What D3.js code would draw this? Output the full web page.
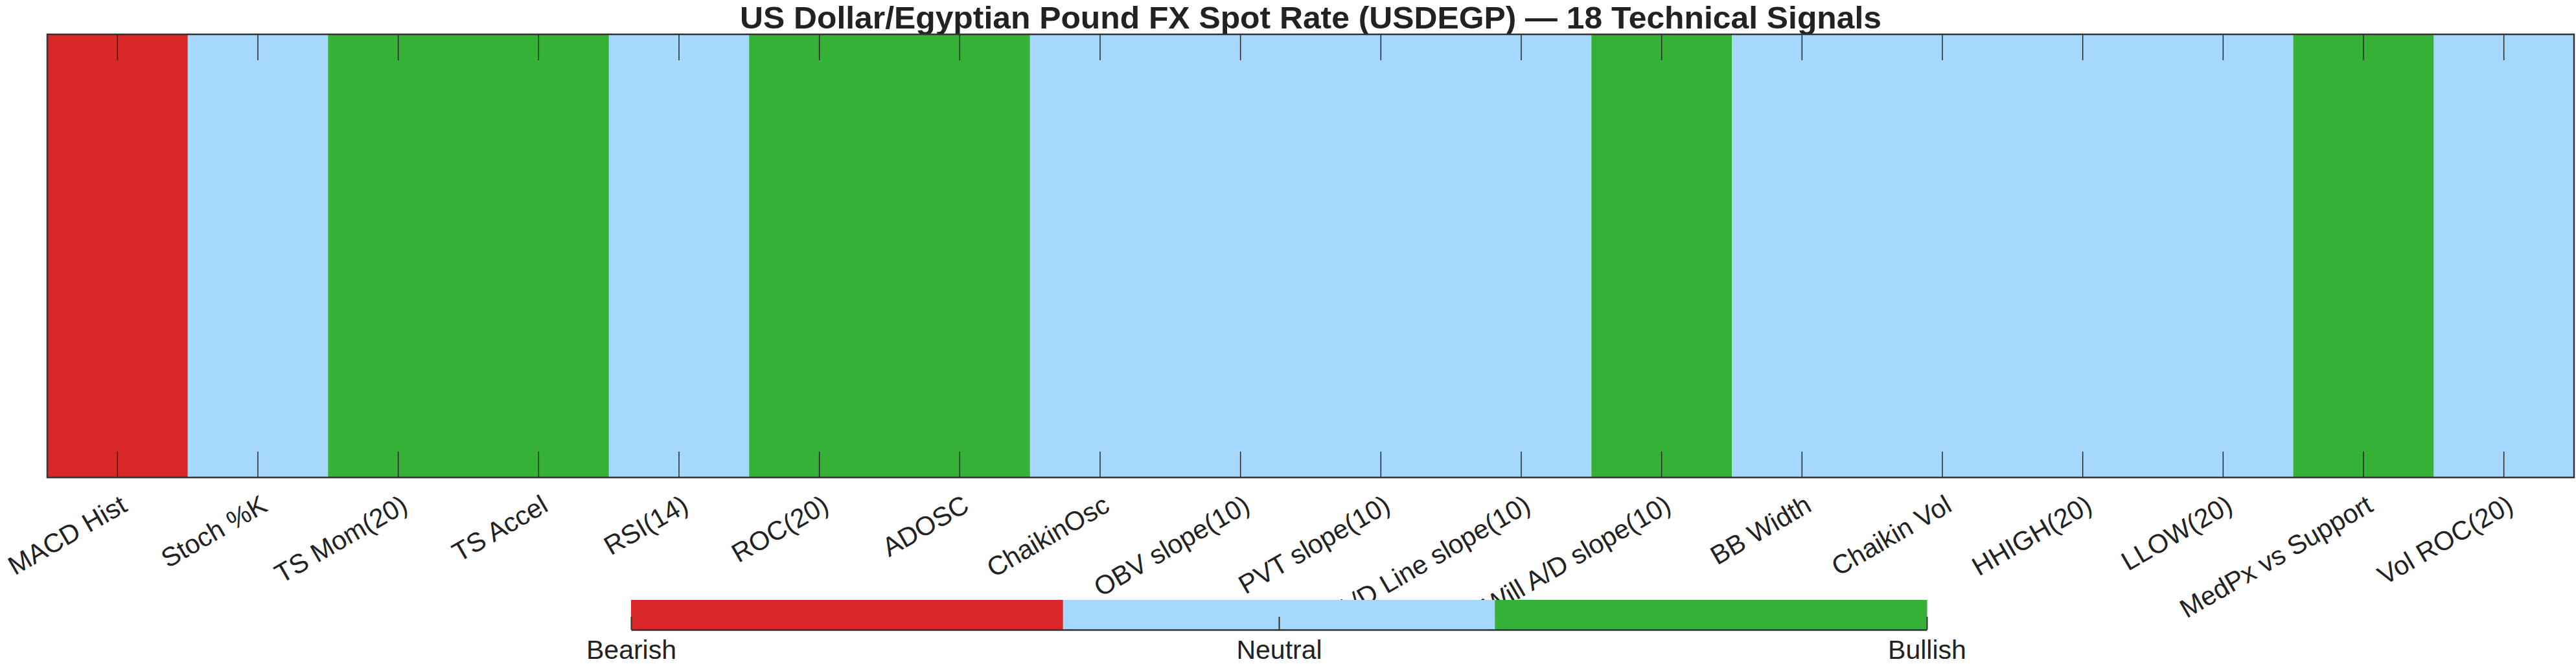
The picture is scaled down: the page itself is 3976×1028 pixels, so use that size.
<!DOCTYPE html>
<html>
<head>
<meta charset="utf-8">
<script src="https://cdn.jsdelivr.net/npm/d3@7"></script>
<style>
    html, body { margin: 0; padding: 0; background: #fff; }
    svg { display: block; font-family: "Liberation Sans", Arial, Helvetica, sans-serif; }
</style>
</head>
<body>
<div id="chart"></div>
<script>
const signals = [
    "MACD Hist", "Stoch %K", "TS Mom(20)", "TS Accel", "RSI(14)", "ROC(20)",
    "ADOSC", "ChaikinOsc", "OBV slope(10)", "PVT slope(10)", "A/D Line slope(10)",
    "Will A/D slope(10)", "BB Width", "Chaikin Vol", "HHIGH(20)", "LLOW(20)",
    "MedPx vs Support", "Vol ROC(20)"
];
// -1 bearish, 0 neutral, 1 bullish
const states = [-1, 0, 1, 1, 0, 1, 1, 0, 0, 0, 0, 1, 0, 0, 0, 0, 1, 0];
const levels = [-1, 0, 1];
const levelLabels = ["Bearish", "Neutral", "Bullish"];
const levelColors = ["#d92727", "#a6d8fe", "#35b235"];

(function () {
    const width = 3976;
    const height = 1028;
    const margin = { top: 53, left: 73, right: 3, bottom: 291 };
    const c = {
        width: width - margin.left - margin.right,
        height: height - margin.top - margin.bottom
    };

    const color = d3.scaleOrdinal().domain(levels).range(levelColors);

    const svg = d3.select("#chart").append("svg")
        .attr("width", width)
        .attr("height", height);

    svg.append("text")
        .attr("x", margin.left + c.width / 2)
        .attr("y", 44)
        .attr("text-anchor", "middle")
        .attr("font-size", 48)
        .attr("font-weight", "bold")
        .attr("fill", "#222")
        .attr("textLength", 1762)
        .attr("lengthAdjust", "spacingAndGlyphs")
        .text("US Dollar/Egyptian Pound FX Spot Rate (USDEGP) \u2014 18 Technical Signals");

    const g = svg.append("g")
        .attr("transform", "translate(" + margin.left + "," + margin.top + ")");

    const x = d3.scaleBand().domain(signals).range([0, c.width]);

    // cells
    g.append("g").selectAll("rect")
        .data(signals)
        .join("rect")
        .attr("x", d => x(d))
        .attr("y", 0)
        .attr("width", x.bandwidth() + 0.5)
        .attr("height", c.height)
        .attr("fill", (d, i) => color(states[i]));

    // ticks inside, bottom and top
    const tickLen = 40;
    const ticks = g.append("g").attr("stroke", "#262626").attr("stroke-width", 1.5);
    signals.forEach(d => {
        const tx = x(d) + x.bandwidth() / 2;
        ticks.append("line").attr("x1", tx).attr("x2", tx).attr("y1", c.height).attr("y2", c.height - tickLen);
        ticks.append("line").attr("x1", tx).attr("x2", tx).attr("y1", 0).attr("y2", tickLen);
    });

    g.append("rect")
        .attr("width", c.width)
        .attr("height", c.height)
        .attr("fill", "none")
        .attr("stroke", "#333")
        .attr("stroke-width", 2.5);

    // rotated tick labels
    g.append("g").selectAll("text")
        .data(signals)
        .join("text")
        .attr("transform", d => "translate(" + (x(d) + x.bandwidth() / 2 + 10) + "," + (c.height + 38) + ") rotate(-30)")
        .attr("text-anchor", "end")
        .attr("dy", "0.35em")
        .attr("font-size", 41)
        .attr("fill", "#222")
        .text(d => d);

    // colorbar (drawn over the labels)
    const cb = { x: 974, y: 926, width: 2000, height: 46 };
    const cbBand = d3.scaleBand().domain(levels).range([0, cb.width]);
    const cbScale = d3.scaleLinear().domain([-1, 1]).range([0, cb.width]);

    const cbg = svg.append("g")
        .attr("transform", "translate(" + cb.x + "," + cb.y + ")");

    cbg.selectAll("rect.cell")
        .data(levels)
        .join("rect")
        .attr("class", "cell")
        .attr("x", d => cbBand(d))
        .attr("width", cbBand.bandwidth() + 0.5)
        .attr("height", cb.height)
        .attr("fill", d => color(d));

    const cbAxis = d3.axisBottom(cbScale)
        .tickValues(levels)
        .tickFormat((d, i) => levelLabels[i])
        .tickSizeInner(-20)
        .tickSizeOuter(0)
        .tickPadding(16);

    cbg.append("g")
        .attr("transform", "translate(0," + cb.height + ")")
        .call(cbAxis)
        .call(a => a.select(".domain").attr("stroke", "#333").attr("stroke-width", 2.5))
        .call(a => a.selectAll(".tick line").attr("stroke", "#333").attr("stroke-width", 2))
        .call(a => a.selectAll(".tick text")
            .attr("font-size", 41)
            .attr("fill", "#222")
            .attr("font-family", "Liberation Sans, Arial, sans-serif"));
})();
</script>
</body>
</html>
